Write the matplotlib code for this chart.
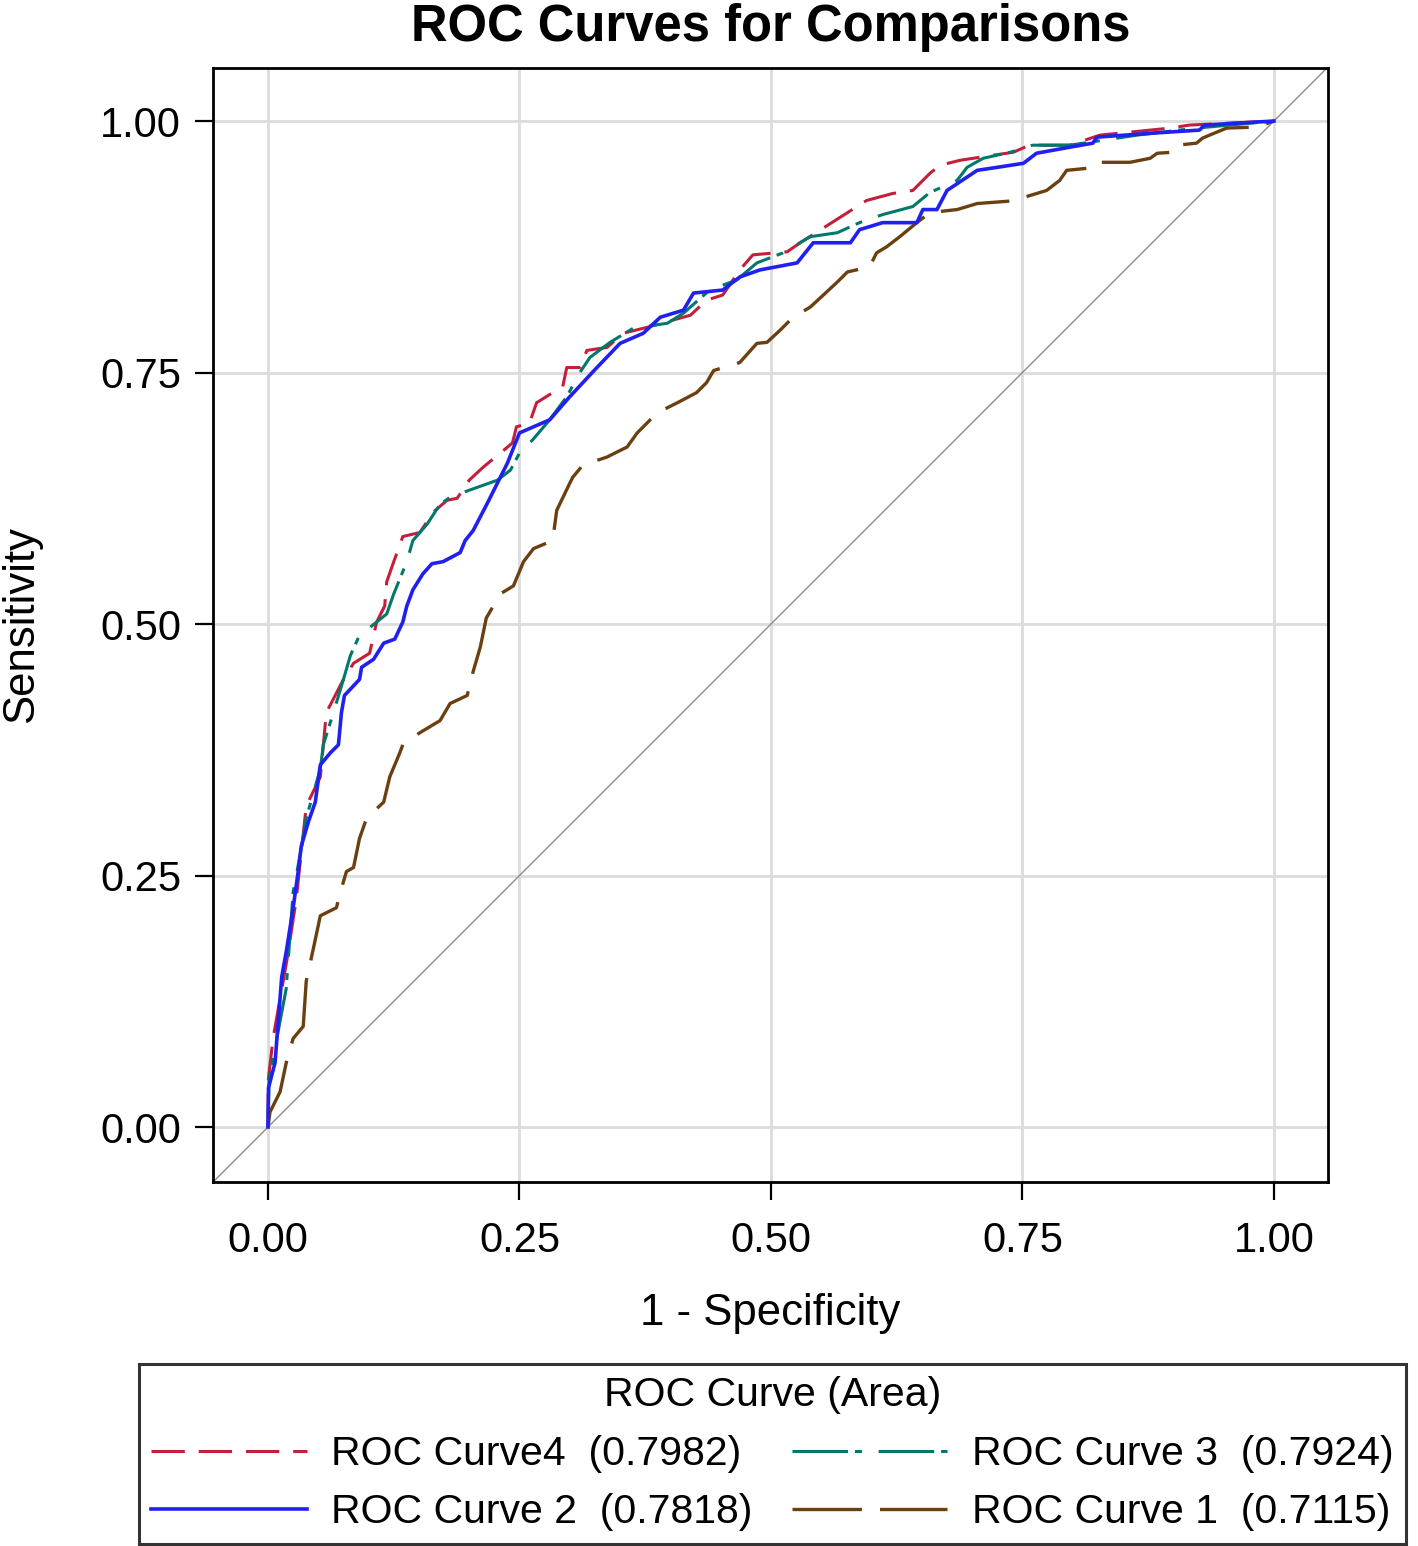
import matplotlib
matplotlib.use("Agg")
import matplotlib.pyplot as plt

plt.rcParams['font.family'] = ['Liberation Sans', 'DejaVu Sans']
plt.rcParams['lines.scale_dashes'] = False

# ROC Curve 2 (blue, solid)
curve2_x = [0, 0.0005, 0.007, 0.0136, 0.0186, 0.025, 0.030, 0.033, 0.040, 0.047,
            0.052, 0.062, 0.070, 0.073, 0.076, 0.091, 0.093, 0.105, 0.115, 0.126,
            0.134, 0.138, 0.144, 0.154, 0.163, 0.174, 0.191, 0.196, 0.204, 0.218,
            0.228, 0.238, 0.25, 0.28, 0.30, 0.327, 0.35, 0.373, 0.39, 0.413,
            0.423, 0.452, 0.469, 0.489, 0.526, 0.542, 0.579, 0.588, 0.611, 0.645,
            0.651, 0.665, 0.675, 0.705, 0.725, 0.751, 0.764, 0.797, 0.82, 0.824,
            0.88, 0.926, 0.931, 1.0]
curve2_y = [0, 0.039, 0.064, 0.149, 0.177, 0.218, 0.254, 0.279, 0.303, 0.323,
            0.360, 0.372, 0.380, 0.412, 0.429, 0.445, 0.457, 0.465, 0.481, 0.485,
            0.502, 0.518, 0.534, 0.550, 0.560, 0.562, 0.571, 0.583, 0.593, 0.62,
            0.64, 0.66, 0.69, 0.703, 0.726, 0.755, 0.779, 0.789, 0.805, 0.812,
            0.829, 0.832, 0.845, 0.852, 0.859, 0.879, 0.879, 0.892, 0.899, 0.899,
            0.912, 0.912, 0.931, 0.951, 0.954, 0.958, 0.968, 0.974, 0.978, 0.984,
            0.988, 0.991, 0.996, 1.0]

# ROC Curve4 (red, dashed)
curve4_x = [0, 0.0003, 0.005, 0.0186, 0.028, 0.038, 0.052, 0.058, 0.075, 0.085,
            0.101, 0.108, 0.116, 0.118, 0.125, 0.134, 0.151, 0.164, 0.178, 0.188,
            0.2, 0.214, 0.231, 0.243, 0.247, 0.26, 0.267, 0.283, 0.293, 0.297,
            0.31, 0.317, 0.337, 0.353, 0.377, 0.42, 0.436, 0.452, 0.469, 0.482,
            0.516, 0.529, 0.562, 0.595, 0.621, 0.641, 0.658, 0.668, 0.688, 0.721,
            0.741, 0.757, 0.797, 0.827, 0.897, 0.916, 1.0]
curve4_y = [0, 0.047, 0.088, 0.165, 0.226, 0.319, 0.348, 0.412, 0.445, 0.461,
            0.471, 0.502, 0.518, 0.542, 0.562, 0.587, 0.591, 0.611, 0.623, 0.625,
            0.643, 0.656, 0.67, 0.68, 0.696, 0.70, 0.72, 0.73, 0.736, 0.755,
            0.755, 0.772, 0.775, 0.789, 0.795, 0.807, 0.822, 0.827, 0.852, 0.867,
            0.87, 0.879, 0.9, 0.921, 0.928, 0.931, 0.948, 0.956, 0.961, 0.966,
            0.969, 0.976, 0.976, 0.986, 0.993, 0.996, 1.0]

# ROC Curve 3 (teal, dash-dot)
curve3_x = [0, 0.001, 0.018, 0.025, 0.032, 0.038, 0.052, 0.055, 0.065, 0.075,
            0.082, 0.091, 0.098, 0.118, 0.125, 0.138, 0.144, 0.158, 0.171, 0.181,
            0.2, 0.228, 0.241, 0.25, 0.263, 0.28, 0.297, 0.31, 0.32, 0.34,
            0.363, 0.397, 0.413, 0.439, 0.466, 0.486, 0.512, 0.539, 0.566, 0.588,
            0.611, 0.641, 0.658, 0.685, 0.695, 0.711, 0.738, 0.760, 0.797, 0.864,
            0.923, 1.0]
curve3_y = [0, 0.047, 0.137, 0.234, 0.271, 0.307, 0.356, 0.380, 0.412, 0.445,
            0.469, 0.489, 0.494, 0.510, 0.530, 0.562, 0.583, 0.599, 0.619, 0.626,
            0.633, 0.643, 0.653, 0.67, 0.683, 0.703, 0.726, 0.75, 0.765, 0.78,
            0.794, 0.799, 0.809, 0.832, 0.842, 0.859, 0.869, 0.885, 0.889, 0.899,
            0.907, 0.915, 0.929, 0.941, 0.954, 0.963, 0.969, 0.976, 0.976, 0.986,
            0.993, 1.0]

# ROC Curve 1 (brown, long dash)
curve1_x = [0, 0.002, 0.012, 0.019, 0.025, 0.035, 0.038, 0.045, 0.052, 0.068,
            0.072, 0.078, 0.085, 0.091, 0.098, 0.115, 0.121, 0.131, 0.134, 0.151,
            0.171, 0.181, 0.198, 0.204, 0.211, 0.217, 0.231, 0.244, 0.254, 0.264,
            0.283, 0.287, 0.30, 0.303, 0.313, 0.337, 0.357, 0.367, 0.38, 0.393,
            0.407, 0.426, 0.436, 0.443, 0.469, 0.486, 0.496, 0.509, 0.522, 0.539,
            0.552, 0.566, 0.576, 0.598, 0.605, 0.615, 0.628, 0.645, 0.658, 0.685,
            0.705, 0.745, 0.751, 0.774, 0.787, 0.794, 0.814, 0.820, 0.857, 0.877,
            0.884, 0.900, 0.904, 0.923, 0.929, 0.936, 0.953, 0.983, 1.0]
curve1_y = [0, 0.015, 0.035, 0.068, 0.088, 0.100, 0.145, 0.177, 0.210, 0.218,
            0.234, 0.254, 0.258, 0.287, 0.307, 0.323, 0.348, 0.372, 0.380, 0.392,
            0.404, 0.421, 0.429, 0.453, 0.477, 0.506, 0.530, 0.538, 0.562, 0.575,
            0.583, 0.613, 0.64, 0.646, 0.658, 0.666, 0.676, 0.69, 0.703, 0.713,
            0.72, 0.73, 0.74, 0.752, 0.76, 0.779, 0.78, 0.792, 0.805, 0.815,
            0.827, 0.84, 0.85, 0.855, 0.869, 0.875, 0.885, 0.899, 0.909, 0.912,
            0.918, 0.921, 0.924, 0.931, 0.941, 0.951, 0.953, 0.959, 0.959, 0.963,
            0.968, 0.969, 0.976, 0.978, 0.983, 0.986, 0.993, 0.994, 1.0]

labels = {
    'c4': 'ROC Curve4  (0.7982)',
    'c3': 'ROC Curve 3  (0.7924)',
    'c2': 'ROC Curve 2  (0.7818)',
    'c1': 'ROC Curve 1  (0.7115)',
}
ticks = [0.0, 0.25, 0.5, 0.75, 1.0]
tick_labels = ['0.00', '0.25', '0.50', '0.75', '1.00']

fig = plt.figure(figsize=(14.18, 15.46), dpi=100)
ax = fig.add_axes([0.1502, 0.2354, 0.7863, 0.7206])

ax.set_xlim(-0.0547, 1.0537)
ax.set_ylim(-0.0547, 1.0527)

# diagonal reference
ax.plot([-0.0547, 1.0537], [-0.0547, 1.0537], color='#8c8c8c', lw=1.0, zorder=2)

l1, = ax.plot(curve1_x, curve1_y, color='#6b4010', lw=2.4, dashes=(50, 13),
              label=labels['c1'], zorder=3)
l4, = ax.plot(curve4_x, curve4_y, color='#c41e3a', lw=2.2, dashes=(24, 10),
              label=labels['c4'], zorder=3)
l3, = ax.plot(curve3_x, curve3_y, color='#00786b', lw=2.2, dashes=(40, 5, 5, 12),
              label=labels['c3'], zorder=3)
l2, = ax.plot(curve2_x, curve2_y, color='#2020f0', lw=2.6,
              label=labels['c2'], zorder=4)

ax.set_xticks(ticks)
ax.set_xticklabels(tick_labels)
ax.set_yticks(ticks)
ax.set_yticklabels(tick_labels)
ax.grid(True, color='#dcdcdc', lw=2.0, zorder=0)
ax.set_axisbelow(True)
ax.tick_params(axis='both', length=13, width=1.6, labelsize=30, color='black')
ax.tick_params(axis='x', pad=15)
ax.tick_params(axis='y', pad=10)
for s in ax.spines.values():
    s.set_linewidth(2.0)

fig.text(0.5433, 0.998, 'ROC Curves for Comparisons', ha='center', va='top',
         fontsize=36.5, fontweight='bold')
fig.text(0.5433, 0.1507, '1 - Specificity', ha='center', va='center', fontsize=31.5)
fig.text(0.0155, 0.596, 'Sensitivity', ha='center', va='center', fontsize=31.5,
         rotation=90)

leg = fig.legend(handles=[l4, l2, l3, l1], ncol=2, loc='lower center',
                 bbox_to_anchor=(0.5447, 0.0015), borderaxespad=0, fontsize=29.5,
                 title='ROC Curve (Area)', title_fontsize=29.5,
                 frameon=True, fancybox=False, edgecolor='black',
                 handlelength=3.8, handletextpad=0.6, columnspacing=0.95,
                 labelspacing=0.5, borderpad=0.3)
leg.get_frame().set_linewidth(2.2)

fig.savefig('out.png', dpi=100)
